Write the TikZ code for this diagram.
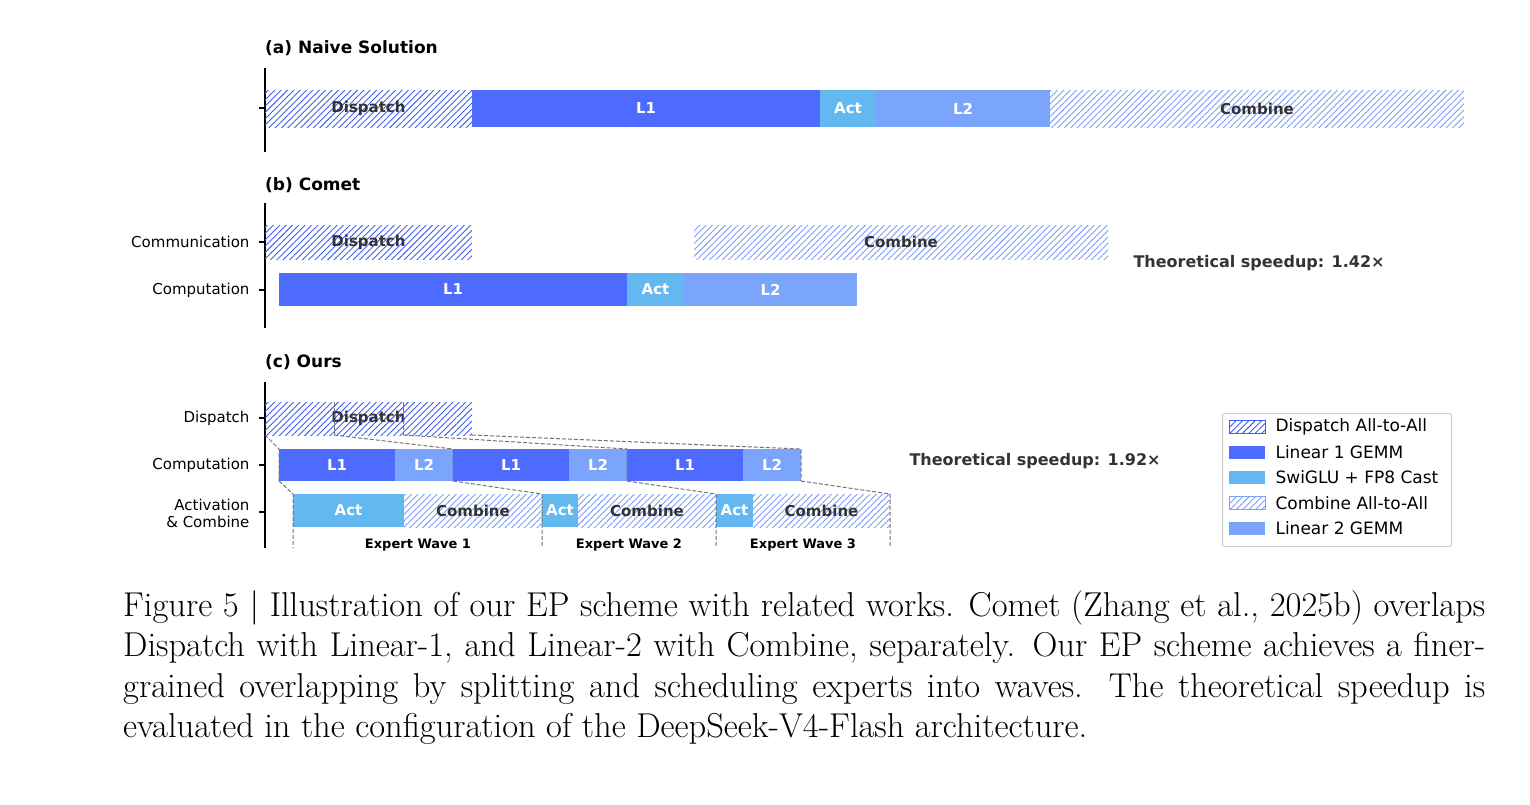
\documentclass[tikz,border=0pt]{standalone}
\usepackage{fontspec}
\setmainfont{Latin Modern Roman}
\newfontfamily\djsans{DejaVu Sans}
\usetikzlibrary{patterns.meta}
\definecolor{cLone}{HTML}{4D6BFE}
\definecolor{cAct}{HTML}{63B8EF}
\definecolor{cLtwo}{HTML}{7BA4FC}
\definecolor{cDisp}{HTML}{3F5EF0}
\definecolor{cComb}{HTML}{7E9EF8}
\definecolor{txtd}{HTML}{333333}
\newcommand{\gbar}[7]{\node[#6,anchor=north west,minimum width={(#3-#2)*1pt},minimum height={(#5-#4)*1pt}] (#1) at (#2,#4) {#7};}
\begin{document}
\begin{tikzpicture}[x=1pt,y=-1pt,
  blk/.style={inner sep=0,outer sep=0,font=\djsans\fontsize{15}{15}\bfseries\selectfont},
  l1/.style={blk,fill=cLone,text=white},
  act/.style={blk,fill=cAct,text=white},
  l2/.style={blk,fill=cLtwo,text=white},
  disp/.style={blk,fill=white,pattern={Lines[angle=45,distance=4.5pt,line width=0.9pt]},pattern color=cDisp,text=txtd},
  comb/.style={blk,fill=white,pattern={Lines[angle=45,distance=4.5pt,line width=0.9pt]},pattern color=cComb,text=txtd},
  ttl/.style={anchor=west,font=\djsans\fontsize{17}{17}\bfseries\selectfont,inner sep=0},
  tick/.style={anchor=east,font=\djsans\fontsize{15}{17}\selectfont,align=right},
  spd/.style={anchor=west,font=\djsans\fontsize{16}{16}\bfseries\selectfont,text=txtd},
  wave/.style={font=\djsans\fontsize{13}{13}\bfseries\selectfont},
  dsh/.style={black!55,dash pattern=on 4pt off 2pt,line width=1pt},
  ax/.style={line width=1.1pt},
  leg/.style={anchor=west,font=\djsans\fontsize{17}{17}\selectfont}]
\useasboundingbox (0,0) rectangle (1530,804);
% (a)
\node[ttl] (ta) at (265,48) {(a) Naive Solution};
\coordinate (aT) at (265,68); \coordinate (aB) at (265,152);
\draw[ax] (aT) -- (aB);
\coordinate (ak) at (259,108); \draw[ax] (ak) -- ++(6,0);
\gbar{aD}{265}{472}{90}{127}{disp}{Dispatch}
\gbar{aL1}{472}{820}{90}{127}{l1}{L1}
\gbar{aA}{820}{876}{90}{127}{act}{Act}
\gbar{aL2}{876}{1050}{90}{127}{l2}{L2}
\gbar{aC}{1050}{1464}{90}{127}{comb}{Combine}
% (b)
\node[ttl] (tb) at (265,185) {(b) Comet};
\coordinate (bT) at (265,203); \coordinate (bB) at (265,328);
\draw[ax] (bT) -- (bB);
\draw[ax] (259,242) -- ++(6,0); \draw[ax] (259,290) -- ++(6,0);
\node[tick] (bk1) at (253,242) {Communication};
\node[tick] (bk2) at (253,290) {Computation};
\gbar{bD}{265}{472}{225}{259}{disp}{Dispatch}
\gbar{bC}{694}{1108}{225}{259}{comb}{Combine}
\gbar{bL1}{279}{627}{273}{306}{l1}{L1}
\gbar{bA}{627}{684}{273}{306}{act}{Act}
\gbar{bL2}{684}{857}{273}{306}{l2}{L2}
\node[spd] (bs) at (1130,263) {Theoretical speedup: 1.42×};
% (c)
\node[ttl] (tc) at (265,362) {(c) Ours};
\coordinate (cT) at (265,382); \coordinate (cB) at (265,548);
\draw[ax] (cT) -- (cB);
\draw[ax] (259,418) -- ++(6,0); \draw[ax] (259,465) -- ++(6,0); \draw[ax] (259,512) -- ++(6,0);
\node[tick] (ck1) at (253,418) {Dispatch};
\node[tick] (ck2) at (253,465) {Computation};
\node[tick] (ck3) at (253,513) {Activation\\\& Combine};
\gbar{d1}{265}{334}{402}{435}{disp}{}
\gbar{d2}{334}{403}{402}{435}{disp}{}
\gbar{d3}{403}{472}{402}{435}{disp}{}
\node[blk,text=txtd] (dl) at (368.5,418.5) {Dispatch};
\gbar{p1}{279}{395}{449}{481}{l1}{L1}
\gbar{q1}{395}{453}{449}{481}{l2}{L2}
\gbar{p2}{453}{569}{449}{481}{l1}{L1}
\gbar{q2}{569}{627}{449}{481}{l2}{L2}
\gbar{p3}{627}{743}{449}{481}{l1}{L1}
\gbar{q3}{743}{801}{449}{481}{l2}{L2}
\gbar{a1}{293}{404}{494}{527}{act}{Act}
\gbar{c1}{404}{542}{494}{527}{comb}{Combine}
\gbar{a2}{542}{578}{494}{527}{act}{Act}
\gbar{c2}{578}{716}{494}{527}{comb}{Combine}
\gbar{a3}{716}{753}{494}{527}{act}{Act}
\gbar{c3}{753}{890}{494}{527}{comb}{Combine}
% dashed guides
\draw[dsh] (d1.north east) -- (d1.south east); \draw[dsh] (d2.north east) -- (d2.south east);
\draw[dsh] (d1.south west) -- (p1.north west) -- (p1.south west);
\draw[dsh] (d1.south east) -- (p2.north west) -- (p2.south west);
\draw[dsh] (d2.south east) -- (p3.north west) -- (p3.south west);
\draw[dsh] (d3.south east) -- (q3.north east) -- (q3.south east);
\draw[dsh] (p1.south west) -- (a1.north west) -- (a1.south west) -- ++(0,21);
\draw[dsh] (p2.south west) -- (a2.north west) -- (a2.south west) -- ++(0,21);
\draw[dsh] (p3.south west) -- (a3.north west) -- (a3.south west) -- ++(0,21);
\draw[dsh] (q3.south east) -- (c3.north east) -- (c3.south east) -- ++(0,21);
\node[wave] (w1) at (418,545) {Expert Wave 1};
\node[wave] (w2) at (629,545) {Expert Wave 2};
\node[wave] (w3) at (803,545) {Expert Wave 3};
\node[spd] (cs) at (906,461) {Theoretical speedup: 1.92×};
% legend
\node[draw=black!20,line width=1pt,rounded corners=2pt,minimum width=229pt,minimum height=133pt,anchor=north west,inner sep=0] (lg) at (1222,413) {};
\foreach \y/\s/\t [count=\i] in {427/disp/Dispatch All-to-All,452/l1/Linear 1 GEMM,477/act/SwiGLU + FP8 Cast,503/comb/Combine All-to-All,528/l2/Linear 2 GEMM}{
  \node[\s,minimum width=36pt,minimum height=13pt,anchor=west] (lp\i) at (1229,\y) {};
  \node[leg] (lt\i) at (1272,\y) {\t};
}
\draw[cDisp,line width=0.8pt] (lp1.south west) rectangle (lp1.north east);
\draw[cComb,line width=0.8pt] (lp4.south west) rectangle (lp4.north east);
% caption
\node[anchor=north west,inner sep=0,font=\fontsize{34.5}{40.5}\selectfont,align=left] (cap) at (123,590) {%
\hbox to 1362pt{Figure 5 | Illustration of our EP scheme with related works. Comet (Zhang et al., 2025b) overlaps}\\
\hbox to 1362pt{Dispatch with Linear-1, and Linear-2 with Combine, separately. Our EP scheme achieves a finer-}\\
\hbox to 1362pt{grained overlapping by splitting and scheduling experts into waves. The theoretical speedup is}\\
evaluated in the configuration of the DeepSeek-V4-Flash architecture.};
\end{tikzpicture}
\end{document}
